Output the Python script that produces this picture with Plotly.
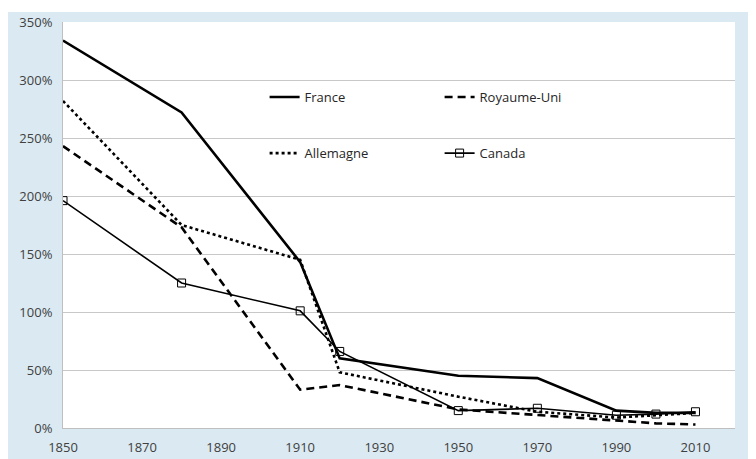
import plotly.graph_objects as go

years_france = [1850, 1880, 1910, 1920, 1950, 1970, 1990, 2000, 2010]
france = [334, 272, 143, 60, 45, 43, 15, 13, 13]

years_uk = [1850, 1880, 1910, 1920, 1950, 1970, 1990, 2000, 2010]
royaume_uni = [243, 173, 33, 37, 16, 11, 6, 4, 3]

years_de = [1850, 1880, 1910, 1920, 1950, 1970, 1990, 2000, 2010]
allemagne = [282, 175, 145, 48, 27, 14, 9, 11, 13]

years_ca = [1850, 1880, 1910, 1920, 1950, 1970, 1990, 2000, 2010]
canada = [196, 125, 101, 66, 15, 17, 11, 12, 14]

x_ticks = [1850, 1870, 1890, 1910, 1930, 1950, 1970, 1990, 2010]
y_ticks = [0, 50, 100, 150, 200, 250, 300, 350]
y_labels = [f"{v}%" for v in y_ticks]

FONT = "Open Sans"
BLUE = "#dbeaf2"

fig = go.Figure()
fig.add_trace(go.Scatter(x=years_france, y=france, name="France", mode="lines",
                         line=dict(color="black", width=2.6), legend="legend"))
fig.add_trace(go.Scatter(x=years_uk, y=royaume_uni, name="Royaume-Uni", mode="lines",
                         line=dict(color="black", width=2.6, dash="8px,5px"), legend="legend"))
fig.add_trace(go.Scatter(x=years_de, y=allemagne, name="Allemagne", mode="lines",
                         line=dict(color="black", width=2.6, dash="dot"), legend="legend2"))
fig.add_trace(go.Scatter(x=years_ca, y=canada, name="Canada", mode="lines+markers",
                         line=dict(color="black", width=1.6),
                         marker=dict(symbol="square-open", size=8, color="black",
                                     line=dict(width=1)),
                         legend="legend2"))

fig.update_layout(
    width=748, height=451,
    margin=dict(l=55, r=21, t=14, b=31),
    paper_bgcolor=BLUE,
    plot_bgcolor="white",
    font=dict(family=FONT, size=13, color="#404040"),
    showlegend=True,
    legend=dict(orientation="h", x=0.30, y=0.815, yanchor="middle", xanchor="left",
                bgcolor="rgba(0,0,0,0)", entrywidth=130, entrywidthmode="pixels",
                font=dict(family=FONT, size=13, color="#262626")),
    legend2=dict(orientation="h", x=0.30, y=0.677, yanchor="middle", xanchor="left",
                 bgcolor="rgba(0,0,0,0)", entrywidth=130, entrywidthmode="pixels",
                 font=dict(family=FONT, size=13, color="#262626")),
    xaxis=dict(range=[1850, 2020], tickvals=x_ticks, showgrid=False,
               showline=True, linecolor="#bfbfbf", linewidth=1, ticks="",
               zeroline=False, ticklabelstandoff=7, automargin=False,
               tickfont=dict(size=13, color="#404040")),
    yaxis=dict(range=[0, 350], tickvals=y_ticks, ticktext=y_labels,
               showgrid=True, gridcolor="#c8c8c8", gridwidth=1,
               showline=True, linecolor="#bfbfbf", linewidth=1, ticks="",
               zeroline=False, ticklabelstandoff=7, automargin=False,
               tickfont=dict(size=13, color="#404040")),
    shapes=[
        dict(type="rect", xref="paper", yref="paper", x0=-0.2, x1=1.2,
             y0=1.0246, y1=1.2, fillcolor="white", line=dict(width=0), layer="below"),
    ],
)

fig.write_html("out.html")
